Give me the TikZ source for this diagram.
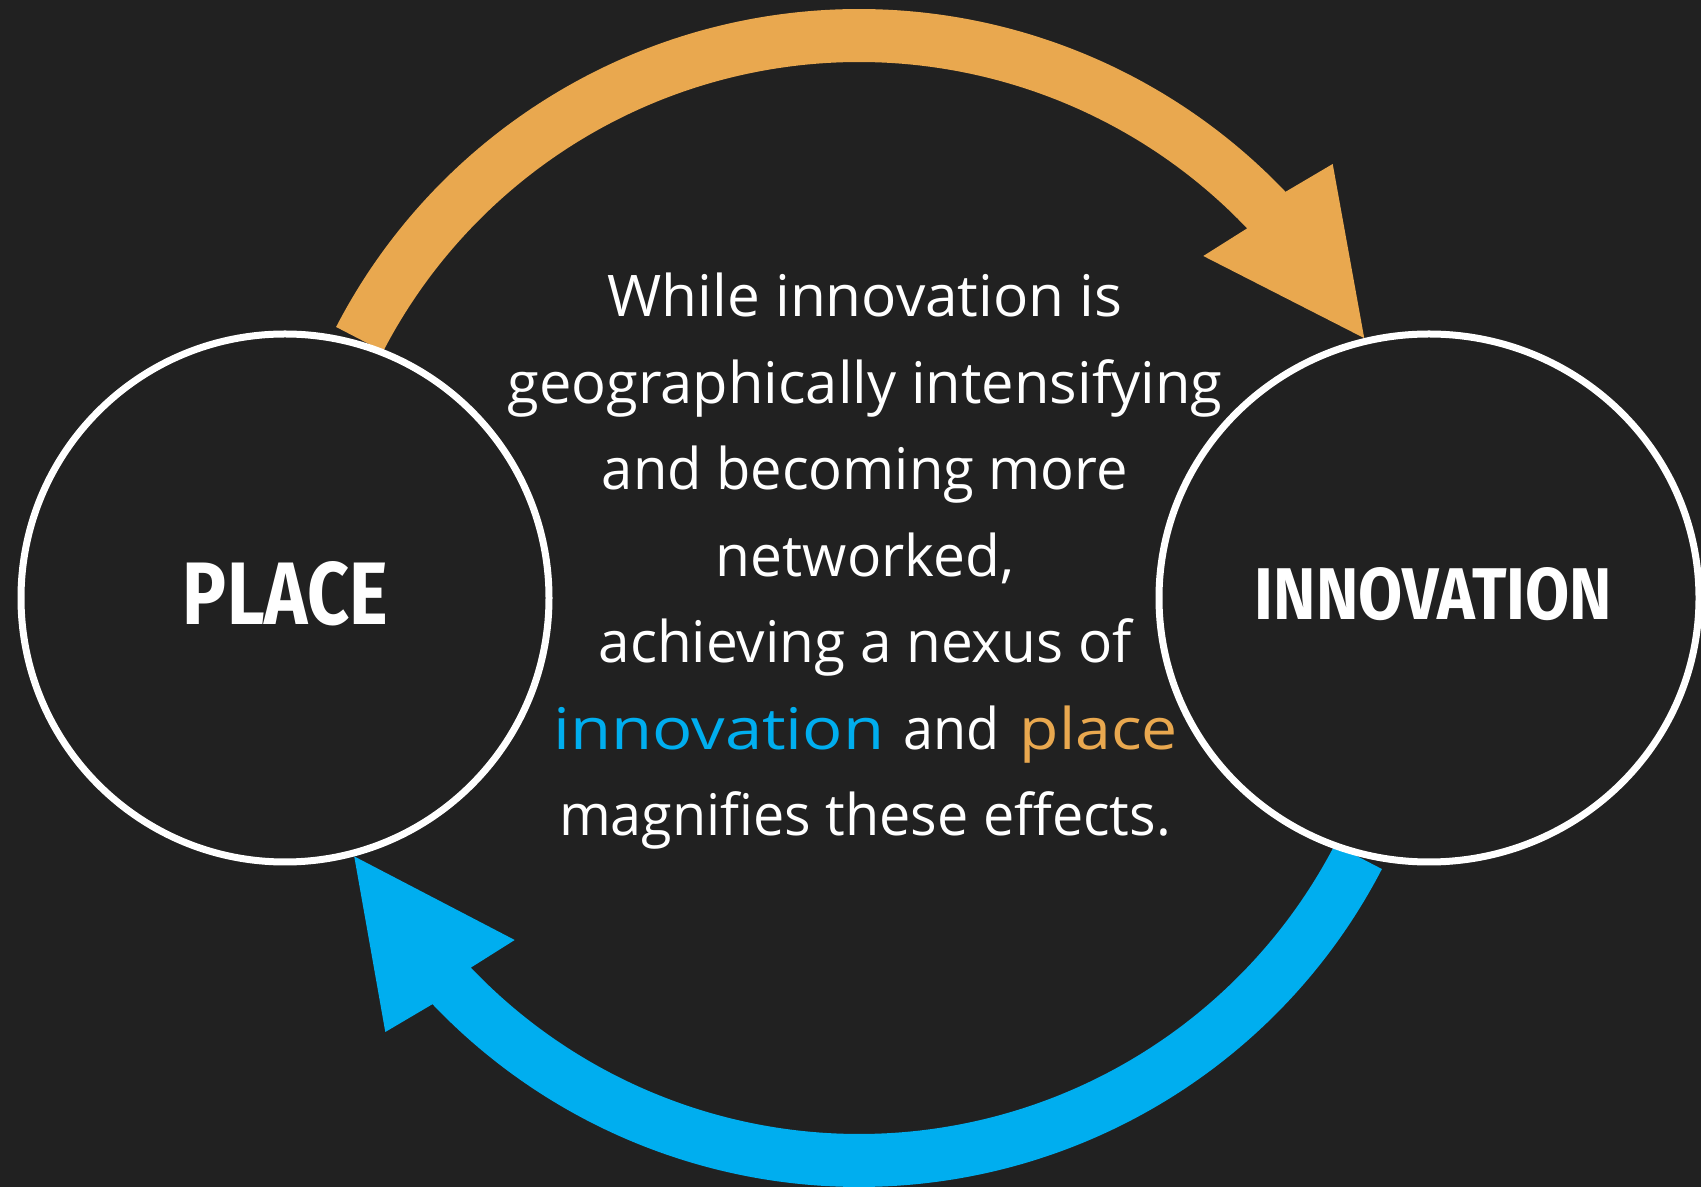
\documentclass[tikz,border=0pt]{standalone}
\usepackage{fontspec}
\setmainfont{Open Sans}
\newfontfamily\headfont{Fira Sans}
\usetikzlibrary{calc,shapes.geometric}
\definecolor{bg}{RGB}{33,33,33}
\definecolor{warm}{RGB}{233,168,79}
\definecolor{cool}{RGB}{0,174,239}
\pgfdeclarelayer{backfill}
\pgfdeclarelayer{arrows}
\pgfsetlayers{backfill,arrows,main}

\begin{document}
\begin{tikzpicture}[x=1pt,y=1pt,
  hub/.style={circle, draw=white, line width=7pt, fill=bg, minimum size=528pt, inner sep=0pt},
  widehub/.style={ellipse, draw=white, line width=7pt, fill=bg, minimum width=540pt, minimum height=528pt, inner sep=0pt},
  hubtitle/.style={text=white, inner sep=0pt, anchor=base, font=\headfont\bfseries},
  body/.style={text=white, inner sep=0pt, anchor=base, font=\fontsize{57.4}{86}\selectfont}
]
\useasboundingbox (0,0) rectangle (1701,1187);
\begin{pgfonlayer}{backfill}
  \fill[bg] (0,0) rectangle (1701,1187);
\end{pgfonlayer}

% the two hubs
\coordinate (C) at (859,589);
\node[hub] (place) at (285,589) {};
\node[widehub] (innov) at (1429,589) {};

% circular arrows between the hubs
\begin{pgfonlayer}{arrows}
  \coordinate (oTip) at (innov.104.8);
  \coordinate (oBarbOut) at (1332.7,1023);
  \coordinate (oBarbIn) at (1203.3,931);
  \fill[warm] ($(C)+(152.6:589)$) arc[start angle=152.6, end angle=43.6, radius=589]
    -- (oBarbOut) -- (oTip) -- (oBarbIn)
    -- ($(C)+(43.6:536)$) arc[start angle=43.6, end angle=152.6, radius=536] -- cycle;

  \coordinate (cTip) at (place.285.6);
  \coordinate (cBarbOut) at (385.3,155);
  \coordinate (cBarbIn) at (514.7,247);
  \fill[cool] ($(C)+(332.6:589)$) arc[start angle=332.6, end angle=223.6, radius=589]
    -- (cBarbOut) -- (cTip) -- (cBarbIn)
    -- ($(C)+(223.6:536)$) arc[start angle=223.6, end angle=332.6, radius=536] -- cycle;
\end{pgfonlayer}

% hub titles
\node[hubtitle] (placeTitle) at (285.5,562) {\resizebox{205pt}{63pt}{PLACE}};
\node[hubtitle] (innovTitle) at (1433.5,567) {\resizebox{357pt}{52pt}{INNOVATION}};

% central statement
\node[body] (l1) at (865,870)   {\resizebox{515pt}{\height}{While innovation is}};
\node[body] (l2) at (865,783.5) {\resizebox{715pt}{\height}{geographically intensifying}};
\node[body] (l3) at (865,697)   {\resizebox{526pt}{\height}{and becoming more}};
\node[body] (l4) at (865,610.5) {\resizebox{298pt}{\height}{networked,}};
\node[body] (l5) at (865,524)   {\resizebox{533pt}{\height}{achieving a nexus of}};
\node[body] (l6) at (865.5,437.5) {\textcolor{cool}{\resizebox{331pt}{\height}{innovation}}\hspace{19.6pt}\resizebox{96pt}{\height}{and}\hspace{19.7pt}\textcolor{warm}{\resizebox{158pt}{\height}{place}}};
\node[body] (l7) at (865,351)   {\resizebox{612pt}{\height}{magnifies these effects.}};
\end{tikzpicture}
\end{document}
